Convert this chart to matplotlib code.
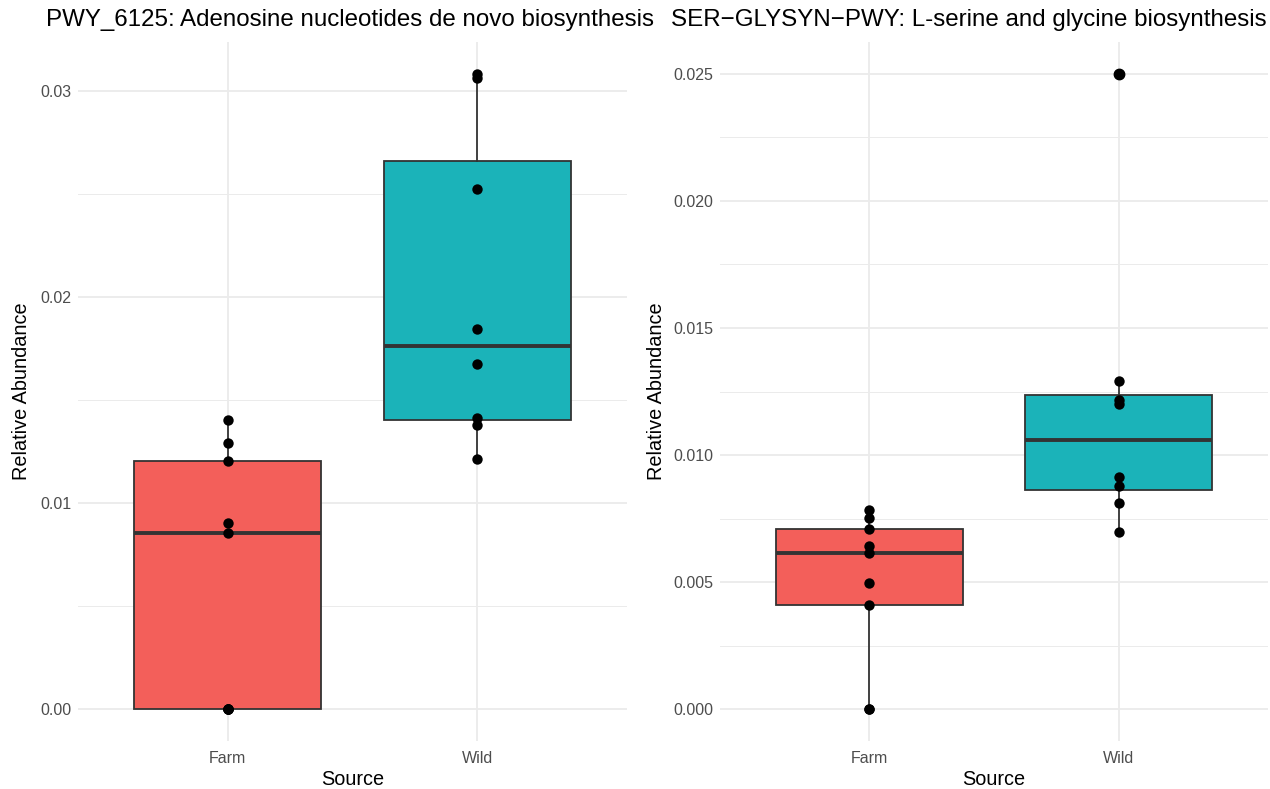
import matplotlib
matplotlib.use("Agg")
import matplotlib.pyplot as plt
import numpy as np
from matplotlib.ticker import MultipleLocator, FormatStrFormatter

plt.rcParams['font.family'] = ['Liberation Sans', 'DejaVu Sans']

# ---- data -----------------------------------------------------------
SOURCES = ['Farm', 'Wild']

PWY6125_FARM = [0.0, 0.0, 0.0, 0.0, 0.00853, 0.00902, 0.01204, 0.01293, 0.01403]
PWY6125_WILD = [0.01212, 0.01379, 0.01414, 0.01675, 0.01846, 0.02524, 0.03063, 0.03083]

SERGLY_FARM = [0.0, 0.0, 0.00412, 0.00495, 0.00613, 0.00643, 0.00711, 0.00753, 0.00783]
SERGLY_WILD = [0.00696, 0.0081, 0.00878, 0.00915, 0.01200, 0.01217, 0.01291, 0.0250]

PANELS = [
    ('PWY_6125: Adenosine nucleotides de novo biosynthesis',
     [PWY6125_FARM, PWY6125_WILD], 0.01, 0.005, '%.2f'),
    ('SER\u2212GLYSYN\u2212PWY: L-serine and glycine biosynthesis',
     [SERGLY_FARM, SERGLY_WILD], 0.005, 0.0025, '%.3f'),
]

FILL = ['#F35F5A', '#1BB3B9']
EDGE = '#333333'
W, H = 1270, 789

fig = plt.figure(figsize=(W / 100, H / 100), dpi=100)
fig.patch.set_facecolor('white')

# panel boxes in pixels: (left, right)
panel_x = [(78, 627), (720, 1268)]
panel_y = (42, 741)
title_x = [46, 671]
ylab_x = [22, 656]

for i, (title, groups, major, minor, fmt) in enumerate(PANELS):
    x0, x1 = panel_x[i]
    ax = fig.add_axes([x0 / W, (H - panel_y[1]) / H,
                       (x1 - x0) / W, (panel_y[1] - panel_y[0]) / H])
    ax.set_facecolor('white')

    bp = ax.boxplot(groups, positions=[1, 2], widths=0.75, patch_artist=True,
                    showcaps=False, whis=1.5,
                    boxprops=dict(edgecolor=EDGE, linewidth=1.3),
                    whiskerprops=dict(color=EDGE, linewidth=1.3),
                    medianprops=dict(color=EDGE, linewidth=2.8),
                    flierprops=dict(marker='o', markerfacecolor='black',
                                    markeredgecolor='black', markersize=7.5))
    for patch, c in zip(bp['boxes'], FILL):
        patch.set_facecolor(c)
        patch.set_zorder(2)
    for k in ('whiskers', 'medians', 'fliers'):
        for art in bp[k]:
            art.set_zorder(3)

    for pos, vals in zip([1, 2], groups):
        ax.scatter(np.full(len(vals), pos), vals, s=56, color='black',
                   zorder=4, linewidths=0)

    allv = np.concatenate(groups)
    lo, hi = allv.min(), allv.max()
    pad = (hi - lo) * 0.05
    ax.set_ylim(lo - pad, hi + pad)
    ax.set_xlim(0.4, 2.6)

    ax.yaxis.set_major_locator(MultipleLocator(major))
    ax.yaxis.set_minor_locator(MultipleLocator(minor))
    ax.yaxis.set_major_formatter(FormatStrFormatter(fmt))
    ax.set_xticks([1, 2])
    ax.set_xticklabels(SOURCES)

    ax.grid(True, which='major', axis='both', color='#EBEBEB', linewidth=1.3, zorder=0)
    ax.grid(True, which='minor', axis='y', color='#EBEBEB', linewidth=0.7, zorder=0)
    ax.set_axisbelow(True)
    for sp in ax.spines.values():
        sp.set_visible(False)
    ax.tick_params(axis='y', which='both', length=0, labelsize=11.5,
                   labelcolor='#4D4D4D', pad=5)
    ax.tick_params(axis='x', which='both', length=0, labelsize=11.5,
                   labelcolor='#4D4D4D', pad=7)

    ax.set_xlabel('Source', fontsize=14.3, color='black', labelpad=3)
    fig.text(ylab_x[i] / W, 1 - 391 / H, 'Relative Abundance', rotation=90,
             fontsize=14.3, color='black', ha='center', va='center')
    fig.text(title_x[i] / W, 1 - 20 / H, title, fontsize=17.35, color='black',
             ha='left', va='center')

fig.savefig('out.png', dpi=100, facecolor='white')
